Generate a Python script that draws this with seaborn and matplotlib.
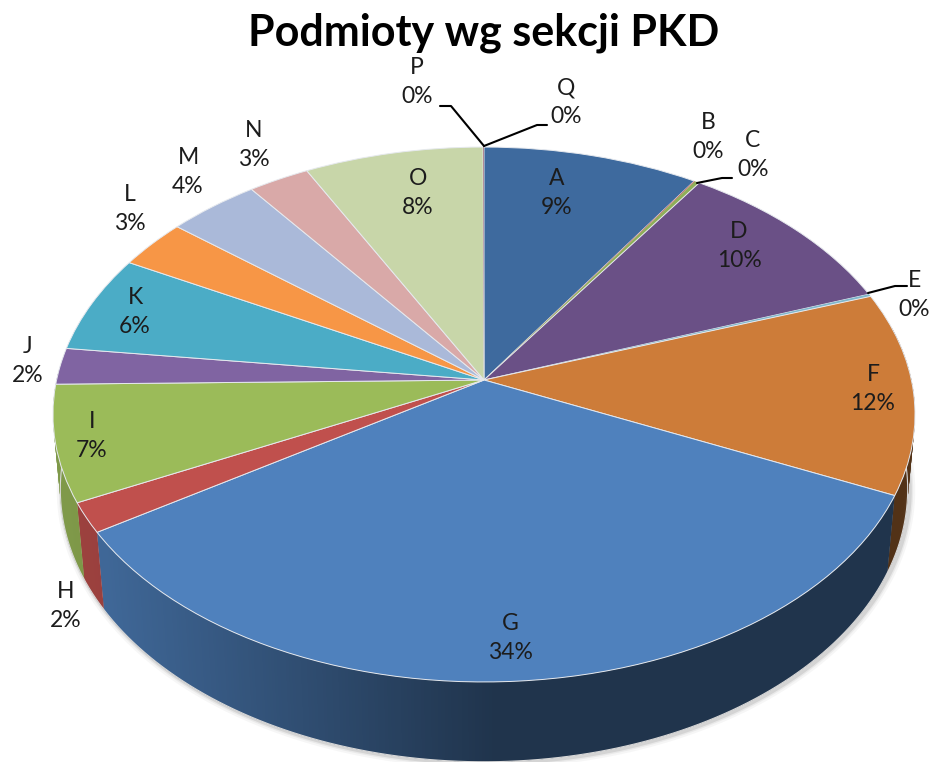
import numpy as np
import matplotlib
matplotlib.use('Agg')
import matplotlib.pyplot as plt
from matplotlib.transforms import Transform
import seaborn as sns

# sekcje PKD, wartosci
sections = ['A', 'B', 'C', 'D', 'E', 'F', 'G', 'H', 'I', 'J', 'K', 'L', 'M', 'N', 'O', 'P', 'Q']
values = [9.17, 0.04, 0.2, 10.05, 0.15, 12.2, 34.1, 1.8, 7.0, 2.2, 5.9, 3.0, 3.9, 2.6, 7.6, 0.02, 0.02]
percent_labels = ['9%', '0%', '0%', '10%', '0%', '12%', '34%', '2%', '7%', '2%', '6%', '3%', '4%', '3%', '8%', '0%', '0%']
colors = ['#3e6a9e', '#c0504d', '#8fae58', '#6a5086', '#7fb7cc', '#cd7c39', '#4f81bd', '#c0504d', '#9bbb59',
          '#8064a2', '#4bacc6', '#f79646', '#aab9d9', '#d9a9a8', '#c8d6a9', '#4f81bd', '#c0504d']

label_xy = [(557, 193), (708, 137), (753, 155), (739, 246), (914, 295), (873, 389), (510, 638), (66, 606), (92, 436),
            (28, 361), (135, 312), (130, 209), (188, 172), (254, 145), (418, 193), (417, 82), (566, 102)]
leaders = [[(484, 146), (451, 106), (440, 106)],
           [(484, 146), (537, 125), (547, 125)],
           [(697, 183), (722, 178), (732, 178)],
           [(868, 293), (895, 286), (907, 286)]]

# perspektywa: kolo jednostkowe -> piksele obrazka
cx, cy = 484, 380
a, b, k = 427.4, 263.0, 0.129
drop, shrink = 76.0, 0.017


def project(u, v, low=False):
    w = 1 + k * v + (shrink if low else 0)
    return cx + a * u / w, cy - (b * v - (drop if low else 0)) / w


class Perspective(Transform):
    input_dims = output_dims = 2

    def transform_non_affine(self, xy):
        xy = np.asarray(xy, dtype=float)
        return np.column_stack(project(xy[:, 0], xy[:, 1]))


sns.set_theme(style='white')
plt.rcParams['font.family'] = ['Lato', 'DejaVu Sans']

palette = sns.color_palette(colors)
fig, ax = plt.subplots(figsize=(9.32, 7.62), dpi=100)
fig.subplots_adjust(0, 0, 1, 1)

wedges, _ = ax.pie(values, colors=palette, startangle=90, counterclock=False,
                   wedgeprops=dict(edgecolor='#e6e9ee', linewidth=0.7))
ax.set_aspect('auto')
ax.set_xlim(0, 932)
ax.set_ylim(762, 0)
ax.axis('off')

persp = Perspective() + ax.transData
for w, val in zip(wedges, values):
    w.set_transform(persp)
    w.set_zorder(5)
    if val < 1:  # cienkie wycinki bez obrysu, inaczej znikaja
        w.set_linewidth(0)

# cien pod spodem
t = np.radians(np.linspace(88, 268, 300))
sx, sy = project(np.sin(t), np.cos(t), low=True)
for lw, al in [(8, 0.05), (5, 0.08), (3, 0.14)]:
    ax.plot(sx + 2, sy + 1, color='#555555', lw=lw, alpha=al, zorder=1, solid_capstyle='round')

# boczna sciana, paski sterowane katem i kolorem wycinka
for w, col in zip(wedges, palette):
    # theta w pie: kat matematyczny, zamiana na kat od gory
    t0, t1 = sorted([90 - w.theta1, 90 - w.theta2])
    t0, t1 = max(t0, 78), min(t1, 272)
    if t1 <= t0:
        continue
    steps = np.radians(np.arange(t0, t1 + 0.4, 0.4))
    for s0, s1 in zip(steps[:-1], steps[1:]):
        # pasek zachodzi na nastepny, zeby nie bylo szczelin
        s2 = min(s1 + np.radians(0.6), np.radians(t1))
        x0, y0 = project(np.sin(s0), np.cos(s0))
        x1, y1 = project(np.sin(s2), np.cos(s2))
        x2, y2 = project(np.sin(s2), np.cos(s2), low=True)
        x3, y3 = project(np.sin(s0), np.cos(s0), low=True)
        f = np.interp(x0, [60, 105, 500], [0.82, 0.8, 0.4])
        shade = tuple(c * f for c in col)
        ax.fill([x0, x1, x2, x3], [y0, y1, y2, y3], color=shade, lw=0, zorder=3)

# jasna krawedz dolna
ax.plot(sx, sy, color='#d8d8d8', lw=0.8, zorder=4)

for (x, y), sec, pct in zip(label_xy, sections, percent_labels):
    ax.text(x, y, sec + '\n' + pct, ha='center', va='center', fontsize=16.5, color='#1c1c1c',
            linespacing=1.42, zorder=7)

for line in leaders:
    ax.plot([p[0] for p in line], [p[1] for p in line], color='black', lw=1.5, zorder=6)

ax.text(484, 33, 'Podmioty wg sekcji PKD', ha='center', va='center', fontsize=31, fontweight='bold', color='black')

fig.savefig('out.png', dpi=100)
